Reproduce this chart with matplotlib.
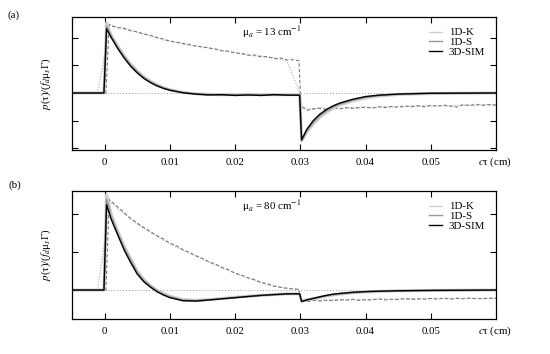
import matplotlib
matplotlib.use("Agg")
import matplotlib.pyplot as plt

plt.rcParams['font.family'] = ['Liberation Serif', 'DejaVu Serif']
plt.rcParams['mathtext.fontset'] = 'stix'

# ---- smooth curves (1D-K, 1D-S, 3D-SIM), same time grid for both panels
t_grid = [-0.005, -0.0001, 0.0003, 0.001, 0.002, 0.003, 0.004, 0.005, 0.006, 0.007,
          0.008, 0.009, 0.010, 0.012, 0.014, 0.016, 0.018, 0.020, 0.022, 0.024,
          0.026, 0.028, 0.0299, 0.0302, 0.031, 0.032, 0.033, 0.034, 0.035, 0.036,
          0.038, 0.040, 0.042, 0.045, 0.050, 0.060]

k_a = [0, 0, 2.55, 2.10, 1.71, 1.35, 1.05, 0.80, 0.59, 0.43, 0.30, 0.20, 0.12, 0.02,
       -0.03, -0.05, -0.06, -0.06, -0.06, -0.06, -0.06, -0.06, -0.06, -1.74, -1.42,
       -1.12, -0.88, -0.70, -0.56, -0.44, -0.29, -0.18, -0.11, -0.05, -0.02, 0]
s_a = [0, 0, 2.42, 2.06, 1.67, 1.31, 1.01, 0.77, 0.56, 0.40, 0.28, 0.18, 0.11, 0.01,
       -0.04, -0.06, -0.07, -0.07, -0.07, -0.07, -0.07, -0.07, -0.07, -1.72, -1.37,
       -1.06, -0.82, -0.65, -0.51, -0.40, -0.26, -0.15, -0.09, -0.04, -0.01, 0]
sim_a = [0, 0, 2.33, 2.02, 1.62, 1.27, 0.97, 0.73, 0.53, 0.38, 0.26, 0.17, 0.10, 0.01,
         -0.04, -0.07, -0.06, -0.09, -0.07, -0.09, -0.06, -0.08, -0.08, -1.70, -1.32,
         -1.00, -0.77, -0.60, -0.47, -0.37, -0.23, -0.13, -0.08, -0.04, -0.01, 0]

k_b = [0, 0, 2.50, 2.00, 1.55, 1.15, 0.82, 0.50, 0.28, 0.12, 0.00, -0.09, -0.16, -0.25,
       -0.27, -0.25, -0.22, -0.19, -0.16, -0.14, -0.12, -0.10, -0.10, -0.29, -0.26,
       -0.23, -0.19, -0.16, -0.13, -0.11, -0.07, -0.05, -0.04, -0.02, -0.01, 0]
s_b = [0, 0, 2.38, 1.93, 1.50, 1.10, 0.78, 0.46, 0.25, 0.10, -0.02, -0.11, -0.18, -0.27,
       -0.28, -0.26, -0.23, -0.20, -0.17, -0.14, -0.12, -0.10, -0.10, -0.30, -0.26,
       -0.22, -0.18, -0.15, -0.12, -0.10, -0.07, -0.05, -0.03, -0.02, -0.01, 0]
sim_b = [0, 0, 2.24, 1.86, 1.45, 1.05, 0.72, 0.42, 0.22, 0.08, -0.04, -0.13, -0.20, -0.28,
         -0.29, -0.26, -0.23, -0.20, -0.17, -0.14, -0.12, -0.10, -0.10, -0.30, -0.26,
         -0.22, -0.18, -0.14, -0.11, -0.09, -0.06, -0.04, -0.03, -0.02, -0.01, 0]

# ---- noisy curves (dashed / dotted), step of 0.001
t_noisy = [-0.005, -0.0011, 0.0002, 0.0007, 0.001, 0.002, 0.003, 0.004, 0.005, 0.006,
           0.007, 0.008, 0.009, 0.010, 0.011, 0.012, 0.013, 0.014, 0.015, 0.016,
           0.017, 0.018, 0.019, 0.020, 0.021, 0.022, 0.023, 0.024, 0.025, 0.026,
           0.027, 0.028, 0.029, 0.0298, 0.0301, 0.031, 0.032, 0.033, 0.034, 0.035,
           0.036, 0.037, 0.038, 0.039, 0.040, 0.041, 0.042, 0.043, 0.044, 0.045,
           0.046, 0.047, 0.048, 0.049, 0.050, 0.051, 0.052, 0.053, 0.054, 0.055,
           0.056, 0.057, 0.058, 0.059, 0.060]

dash_a = [0, 0, 0, 2.48, 2.44, 2.37, 2.35, 2.26, 2.22, 2.14, 2.10, 2.01, 1.96, 1.88,
          1.85, 1.79, 1.76, 1.70, 1.68, 1.63, 1.60, 1.53, 1.52, 1.45, 1.44, 1.37,
          1.38, 1.31, 1.33, 1.24, 1.27, 1.20, 1.21, 1.17, -0.48, -0.63, -0.57, -0.56,
          -0.60, -0.55, -0.58, -0.53, -0.56, -0.53, -0.52, -0.55, -0.50, -0.53, -0.49,
          -0.52, -0.47, -0.50, -0.46, -0.50, -0.45, -0.48, -0.44, -0.47, -0.51, -0.42,
          -0.46, -0.41, -0.45, -0.42, -0.44]
dot_a = [0, 0, 1.6, 2.52, 2.45, 2.40, 2.32, 2.29, 2.19, 2.16, 2.07, 2.03, 1.93, 1.90,
         1.82, 1.81, 1.73, 1.72, 1.65, 1.65, 1.57, 1.55, 1.49, 1.47, 1.41, 1.40,
         1.34, 1.35, 1.28, 1.29, 1.22, 1.15, 0.55, 0.10, -0.45, -0.55, -0.60, -0.52,
         -0.57, -0.53, -0.56, -0.55, -0.52, -0.55, -0.50, -0.53, -0.52, -0.49, -0.52,
         -0.48, -0.51, -0.47, -0.49, -0.46, -0.48, -0.45, -0.47, -0.49, -0.44, -0.45,
         -0.43, -0.46, -0.41, -0.44, -0.43]

dash_b = [0, 0, 0, 2.37, 2.33, 2.18, 2.03, 1.88, 1.76, 1.64, 1.54, 1.43, 1.34, 1.23,
          1.16, 1.06, 0.99, 0.90, 0.83, 0.74, 0.68, 0.59, 0.53, 0.44, 0.39, 0.32,
          0.27, 0.20, 0.16, 0.10, 0.07, 0.04, 0.03, 0.02, -0.28, -0.31, -0.27, -0.29,
          -0.26, -0.28, -0.25, -0.27, -0.24, -0.27, -0.25, -0.26, -0.23, -0.26, -0.24,
          -0.25, -0.22, -0.25, -0.23, -0.24, -0.22, -0.24, -0.21, -0.24, -0.22, -0.23,
          -0.21, -0.23, -0.22, -0.22, -0.21]
dot_b = [0, 0, 1.5, 2.40, 2.30, 2.14, 2.00, 1.86, 1.73, 1.63, 1.51, 1.42, 1.31, 1.22,
         1.13, 1.05, 0.96, 0.89, 0.80, 0.73, 0.65, 0.60, 0.51, 0.45, 0.37, 0.31,
         0.25, 0.19, 0.14, 0.11, 0.08, 0.06, 0.03, 0.01, -0.30, -0.29, -0.28, -0.26,
         -0.28, -0.25, -0.27, -0.24, -0.26, -0.25, -0.27, -0.24, -0.25, -0.23, -0.25,
         -0.23, -0.24, -0.22, -0.24, -0.23, -0.23, -0.21, -0.23, -0.22, -0.21, -0.22,
         -0.22, -0.21, -0.23, -0.21, -0.22]

x_ticks = [0, 0.01, 0.02, 0.03, 0.04, 0.05]
x_ticklabels = ["0", "0.01", "0.02", "0.03", "0.04", "0.05"]
mu_a_values = [13, 80]
panel_tags = ["(a)", "(b)"]

fig = plt.figure(figsize=(5.5, 3.54), dpi=100)
ax_a = fig.add_axes([0.1309, 0.5763, 0.7709, 0.3757])
ax_b = fig.add_axes([0.1309, 0.0989, 0.7709, 0.3616])


def draw_panel(ax, k, s, sim, dash, dot, mu, ylim, yticks):
    ax.plot([0, 0.06], [0, 0], ls=(0, (1, 2)), color='#999999', lw=0.7)
    ax.plot(t_noisy, dot, ls=(0, (1, 1.5)), color='#aaaaaa', lw=0.8)
    ax.plot(t_noisy, dash, ls=(0, (3, 2)), color='#777777', lw=0.8)
    ax.plot(t_grid, k, color='#cfcfcf', lw=2.2, label='1D-K')
    ax.plot(t_grid, s, color='#999999', lw=1.3, label='1D-S')
    ax.plot(t_grid, sim, color='black', lw=1.0, label='3D-SIM')

    ax.set_xlim(-0.005, 0.06)
    ax.set_ylim(*ylim)
    ax.set_xticks(x_ticks)
    ax.set_xticklabels(x_ticklabels)
    ax.set_yticks(yticks)
    ax.set_yticklabels([])
    ax.tick_params(direction='in', top=True, right=True, length=4, width=0.8,
                   labelsize=7.8, pad=6)
    for sp in ax.spines.values():
        sp.set_linewidth(0.9)

    ax.set_ylabel(r'$p$(τ)/($f_d$μ$_s$Γ)', fontsize=7.8)
    ax.yaxis.set_label_coords(-0.045, 0.5)
    ax.text(0.40, 0.885, r'μ$_a$ = %d cm$^{-1}$' % mu, transform=ax.transAxes,
            fontsize=7.8, va='center')
    ax.text(0.957, -0.095, r'$c$τ (cm)', transform=ax.transAxes, fontsize=7.8,
            va='center')
    leg = ax.legend(loc='upper right', frameon=False, fontsize=7.8, handlelength=1.2,
                    handletextpad=0.6, labelspacing=0.0, borderaxespad=0.6)
    for line in leg.get_lines():
        line.set_linewidth(1.0)


draw_panel(ax_a, k_a, s_a, sim_a, dash_a, dot_a, mu_a_values[0],
           (-2.07, 2.76), [-2, -1, 0, 1, 2])
draw_panel(ax_b, k_b, s_b, sim_b, dash_b, dot_b, mu_a_values[1],
           (-0.76, 2.6), [0, 1, 2])

fig.text(0.013, 0.957, panel_tags[0], fontsize=7.8, va='center')
fig.text(0.016, 0.478, panel_tags[1], fontsize=7.8, va='center')

fig.savefig('out.png', dpi=100)
